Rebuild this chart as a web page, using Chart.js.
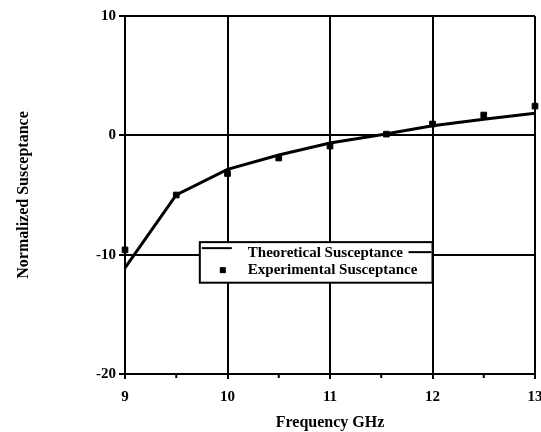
<!DOCTYPE html>
<html>
<head>
<meta charset="utf-8">
<script src="https://cdn.jsdelivr.net/npm/chart.js@4/dist/chart.umd.min.js"></script>
<style>
html,body{margin:0;padding:0;background:#fff;}
#wrap{width:541px;height:432px;position:relative;}
</style>
</head>
<body>
<div id="wrap"><canvas id="c" width="541" height="432"></canvas></div>
<script>
const theoFreq = [9, 9.5, 10, 10.5, 11, 11.5, 12, 12.5, 13];
const theoSusceptance = [-11.1, -5.0, -2.85, -1.65, -0.65, 0.05, 0.8, 1.35, 1.85];
const expFreq = [9, 9.5, 10, 10.5, 11, 11.55, 12, 12.5, 13];
const expSusceptance = [-9.6, -5.0, -3.2, -1.9, -0.9, 0.1, 0.95, 1.7, 2.45];
const xTicks = [9, 10, 11, 12, 13];
const xMinorTicks = [9.5, 10.5, 11.5, 12.5];
const yTicks = [-20, -10, 0, 10];
const seriesNames = ['Theoretical Susceptance', 'Experimental Susceptance'];
const xTitle = 'Frequency GHz';
const yTitle = 'Normalized Susceptance';

const FONT = '"Liberation Serif", "DejaVu Serif", serif';

const legendBox = {
  id: 'legendBox',
  afterDatasetsDraw(chart) {
    const ctx = chart.ctx;
    const xs = chart.scales.x, ys = chart.scales.y;
    // minor ticks below x axis
    ctx.save();
    ctx.strokeStyle = '#000';
    ctx.lineWidth = 2;
    const yb = ys.getPixelForValue(-20);
    xMinorTicks.forEach(v => {
      const px = xs.getPixelForValue(v);
      ctx.beginPath();
      ctx.moveTo(px, yb);
      ctx.lineTo(px, yb + 4);
      ctx.stroke();
    });
    ctx.restore();

    const left = xs.getPixelForValue(9.73), right = xs.getPixelForValue(12.0);
    const top = ys.getPixelForValue(-8.95), bottom = ys.getPixelForValue(-12.35);
    ctx.save();
    ctx.fillStyle = '#fff';
    ctx.fillRect(left, top, right - left, bottom - top);
    ctx.strokeStyle = '#000';
    ctx.lineWidth = 2;
    ctx.strokeRect(left, top, right - left, bottom - top);
    const y1 = top + 11, y2 = top + 28;
    ctx.lineWidth = 2;
    ctx.beginPath();
    ctx.moveTo(left + 2, y1 - 5);
    ctx.lineTo(left + 32, y1 - 5);
    ctx.stroke();
    ctx.beginPath();
    ctx.moveTo(right - 24, y1 - 1);
    ctx.lineTo(right - 1, y1 - 1);
    ctx.stroke();
    ctx.fillStyle = '#000';
    ctx.fillRect(left + 20, y2 - 3, 6, 6);
    ctx.font = 'bold 15px ' + FONT;
    ctx.textBaseline = 'middle';
    ctx.textAlign = 'left';
    ctx.fillText(seriesNames[0], left + 48, y1);
    ctx.fillText(seriesNames[1], left + 48, y2);
    ctx.restore();
  }
};

new Chart(document.getElementById('c'), {
  type: 'scatter',
  data: {
    datasets: [
      {
        label: seriesNames[0],
        data: theoFreq.map((f, i) => ({x: f, y: theoSusceptance[i]})),
        showLine: true,
        borderColor: '#000',
        borderWidth: 3,
        pointRadius: 0,
        tension: 0,
        fill: false
      },
      {
        label: seriesNames[1],
        data: expFreq.map((f, i) => ({x: f, y: expSusceptance[i]})),
        showLine: false,
        pointStyle: 'rect',
        pointRadius: 4,
        backgroundColor: '#000',
        borderColor: '#000',
        borderWidth: 1,
        clip: false
      }
    ]
  },
  options: {
    responsive: false,
    animation: false,
    events: [],
    layout: {padding: {top: 16, right: 6, left: 0, bottom: 0}},
    plugins: {legend: {display: false}, tooltip: {enabled: false}},
    scales: {
      x: {
        type: 'linear',
        min: 9, max: 13,
        afterBuildTicks: s => { s.ticks = xTicks.map(v => ({value: v})); },
        afterFit: s => { s.height = 58; s.paddingRight = 0; s.paddingLeft = 0; },
        border: {display: true, color: '#000', width: 2},
        grid: {color: '#000', lineWidth: 2, drawTicks: true, tickLength: 5},
        ticks: {color: '#000', padding: 9, font: {family: FONT, size: 15, weight: 'bold'}, maxRotation: 0},
        title: {display: true, text: xTitle, color: '#000', padding: {top: 4, bottom: 0}, font: {family: FONT, size: 16, weight: 'bold'}}
      },
      y: {
        type: 'linear',
        min: -20, max: 10,
        afterBuildTicks: s => { s.ticks = yTicks.map(v => ({value: v})); },
        afterFit: s => { s.width = 125; s.paddingTop = 0; s.paddingBottom = 0; },
        border: {display: true, color: '#000', width: 2},
        grid: {color: '#000', lineWidth: 2, tickLength: 6},
        ticks: {color: '#000', padding: 3, font: {family: FONT, size: 15, weight: 'bold'}},
        title: {display: true, text: yTitle, color: '#000', padding: {top: 14, bottom: 0}, font: {family: FONT, size: 16, weight: 'bold'}}
      }
    }
  },
  plugins: [legendBox]
});
</script>
</body>
</html>
